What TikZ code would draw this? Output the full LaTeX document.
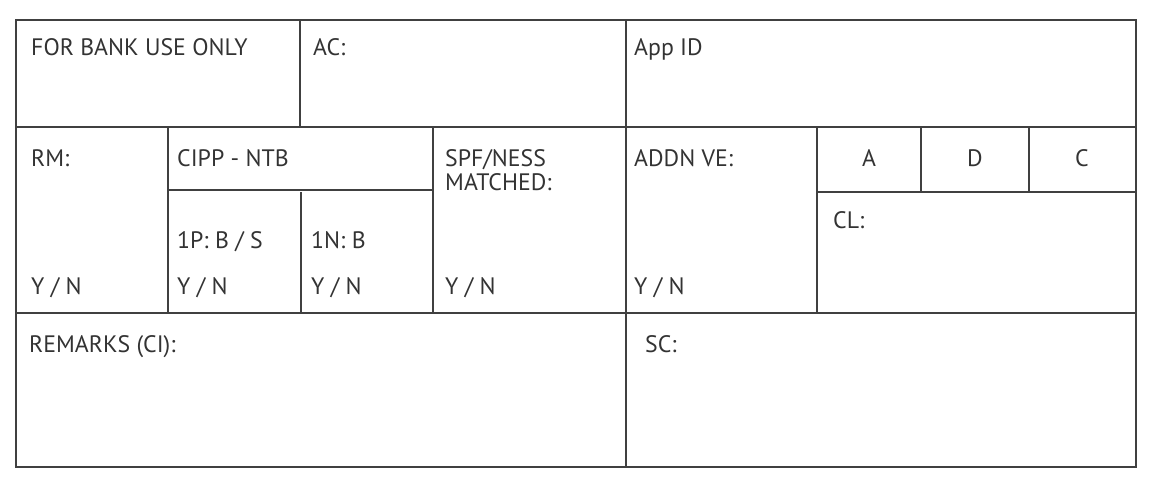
\documentclass[tikz,border=0pt]{standalone}
\usepackage{fontspec}
\setmainfont{PT Sans}
\begin{document}
\begin{tikzpicture}[x=1pt,y=-1pt,
  rule/.style={draw=black!75,line width=2pt},
  lbl/.style={anchor=base west,inner sep=0pt,text=black!80,font=\fontsize{23.8}{28}\selectfont},
  clbl/.style={anchor=base,inner sep=0pt,text=black!80,font=\fontsize{23.8}{28}\selectfont}]
\useasboundingbox (0,0) rectangle (1151,488);
% grid
\draw[rule] (16,20) rectangle (1136,467);
\draw[rule] (16,127) -- (1136,127);
\draw[rule] (16,313) -- (1136,313);
\draw[rule] (300,20) -- (300,127);
\draw[rule] (626,20) -- (626,467);
\draw[rule] (168,127) -- (168,313);
\draw[rule] (433,127) -- (433,313);
\draw[rule] (168,190) -- (433,190);
\draw[rule] (301,192) -- (301,313);
\draw[rule] (817,127) -- (817,313);
\draw[rule] (817,192) -- (1136,192);
\draw[rule] (921,127) -- (921,192);
\draw[rule] (1029,127) -- (1029,192);
% texts
\node[lbl] (fbu) at (31,55) {FOR BANK USE ONLY};
\node[lbl] (ac) at (313,55) {AC:};
\node[lbl] (app) at (634,55) {App ID};
\node[lbl] (rm) at (31,166) {RM:};
\node[lbl] (cipp) at (177,166) {CIPP - NTB};
\node[lbl] (spf) at (445,166) {SPF/NESS};
\node[lbl] (mat) at (445,190) {MATCHED:};
\node[lbl] (addn) at (634,166) {ADDN VE:};
\node[clbl] (a) at (869,166) {A};
\node[clbl] (d) at (975,166) {D};
\node[clbl] (c) at (1082,166) {C};
\node[lbl] (cl) at (833,228) {CL:};
\node[lbl] (p1) at (177,248) {1P: B / S};
\node[lbl] (n1) at (311,248) {1N: B};
\node[lbl] (yn1) at (31,294) {Y / N};
\node[lbl] (yn2) at (177,294) {Y / N};
\node[lbl] (yn3) at (311,294) {Y / N};
\node[lbl] (yn4) at (445,294) {Y / N};
\node[lbl] (yn5) at (634,294) {Y / N};
\node[lbl] (rem) at (29,352) {REMARKS (CI):};
\node[lbl] (sc) at (645,352) {SC:};
\end{tikzpicture}
\end{document}
